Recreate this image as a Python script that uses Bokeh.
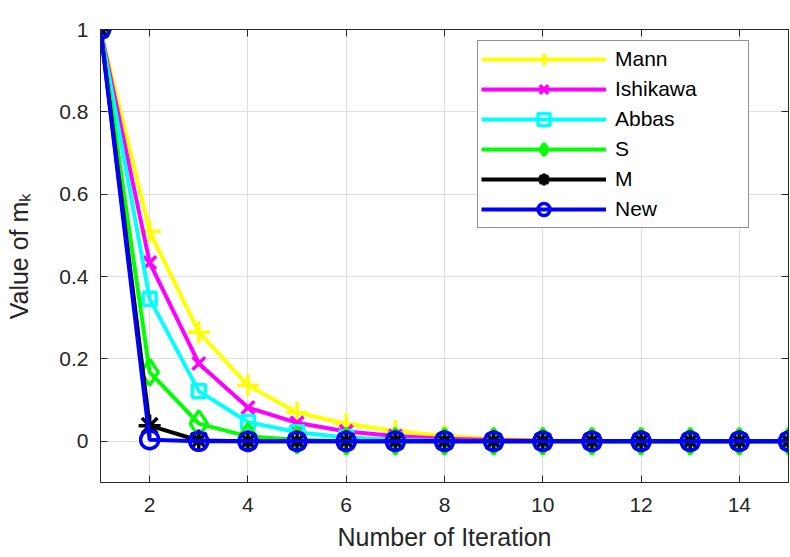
from bokeh.plotting import figure
from bokeh.models import (Range1d, FixedTicker, LinearAxis, Legend, LegendItem,
                          CustomJSTickFormatter)
from bokeh.embed import file_html
from bokeh.resources import INLINE

# ---- data ----
iterations = list(range(1, 16))
mann     = [1.0, 0.51, 0.265, 0.136, 0.070, 0.042, 0.025, 0.013, 0.006, 0.003, 0.0015, 0.0008, 0.0004, 0.0002, 0.0001]
ishikawa = [1.0, 0.434, 0.189, 0.082, 0.045, 0.024, 0.013, 0.006, 0.003, 0.0015, 0.0007, 0.0003, 0.0002, 0.0001, 0.0]
abbas    = [1.0, 0.346, 0.122, 0.047, 0.022, 0.009, 0.004, 0.0015, 0.0006, 0.0002, 0.0001, 0.0, 0.0, 0.0, 0.0]
s_iter   = [1.0, 0.168, 0.043, 0.012, 0.003, 0.001, 0.0003, 0.0001, 0.0, 0.0, 0.0, 0.0, 0.0, 0.0, 0.0]
m_iter   = [1.0, 0.038, 0.002, 0.0001, 0.0, 0.0, 0.0, 0.0, 0.0, 0.0, 0.0, 0.0, 0.0, 0.0, 0.0]
new_iter = [1.0, 0.004, 0.0, 0.0, 0.0, 0.0, 0.0, 0.0, 0.0, 0.0, 0.0, 0.0, 0.0, 0.0, 0.0]

series_names = ["Mann", "Ishikawa", "Abbas", "S", "M", "New"]
series_values = [mann, ishikawa, abbas, s_iter, m_iter, new_iter]
series_colors = ["#ffff00", "#ff00ff", "#00ffff", "#00ff00", "#000000", "#0000ff"]
series_markers = ["cross", "x", "square", "diamond", "asterisk", "circle"]
series_sizes = [22, 18, 13, 26, 22, 18]

x_ticks = [2, 4, 6, 8, 10, 12, 14]
y_ticks = [0, 0.2, 0.4, 0.6, 0.8, 1.0]

AX = "#262626"
FONT = "Liberation Sans"

p = figure(frame_width=688, frame_height=453,
           x_range=Range1d(1, 15), y_range=Range1d(-0.1, 1),
           output_backend="svg", toolbar_location=None,
           min_border_left=100, min_border_right=2, min_border_top=29, min_border_bottom=74,
           background_fill_color="white", border_fill_color="white")
p.outline_line_color = AX
p.outline_line_width = 1

xt = FixedTicker(ticks=x_ticks, minor_ticks=[])
yt = FixedTicker(ticks=y_ticks, minor_ticks=[])
yfmt = CustomJSTickFormatter(code="return String(Math.round(tick*10)/10);")

for ax in (p.xaxis[0], p.yaxis[0]):
    ax.axis_line_color = AX
    ax.major_tick_line_color = AX
    ax.major_tick_in = 7
    ax.major_tick_out = 0
    ax.minor_tick_line_color = None
    ax.major_label_text_font = FONT
    ax.major_label_text_font_size = "21px"
    ax.major_label_text_color = AX
    ax.axis_label_text_font = FONT
    ax.axis_label_text_font_size = "25px"
    ax.axis_label_text_font_style = "normal"
    ax.axis_label_text_color = AX

p.xaxis.ticker = xt
p.yaxis.ticker = yt
p.yaxis.formatter = yfmt
p.xaxis.axis_label = "Number of Iteration"
p.yaxis.axis_label = "Value of m\u2096"
p.xaxis.major_label_standoff = 15
p.xaxis.axis_label_standoff = 8
p.yaxis.major_label_standoff = 12
p.yaxis.axis_label_standoff = 23

# mirrored axes (top / right) with inward ticks, no labels
for loc, tk in (("above", xt), ("right", yt)):
    ax = LinearAxis(ticker=tk, axis_line_color=AX, major_tick_line_color=AX,
                    major_tick_in=7, major_tick_out=0, minor_tick_line_color=None,
                    major_label_text_font_size="0px", major_label_standoff=0,
                    major_label_text_color=None)
    p.add_layout(ax, loc)

p.xgrid.ticker = xt
p.ygrid.ticker = yt
p.xgrid.grid_line_color = "#dedede"
p.ygrid.grid_line_color = "#dedede"
p.xgrid.grid_line_width = 1
p.ygrid.grid_line_width = 1

items = []
for name, vals, col, mk, sz in zip(series_names, series_values, series_colors,
                                   series_markers, series_sizes):
    lr = p.line(iterations, vals, line_color=col, line_width=4)
    sr = p.scatter(iterations, vals, marker=mk, size=sz, line_color=col,
                   line_width=3.5, fill_color=None)
    items.append(LegendItem(label=name, renderers=[lr, sr]))

legend = Legend(items=items, location=(377, 254), orientation="vertical",
                padding=3, spacing=0, margin=0,
                glyph_height=30, glyph_width=125, label_height=30,
                label_standoff=9, label_width=130,
                label_text_font=FONT, label_text_font_size="21px",
                label_text_color="#000000",
                border_line_color=AX, border_line_width=1,
                background_fill_color="white", background_fill_alpha=1.0)
p.add_layout(legend)

open("out.html", "w").write(file_html(p, INLINE))
